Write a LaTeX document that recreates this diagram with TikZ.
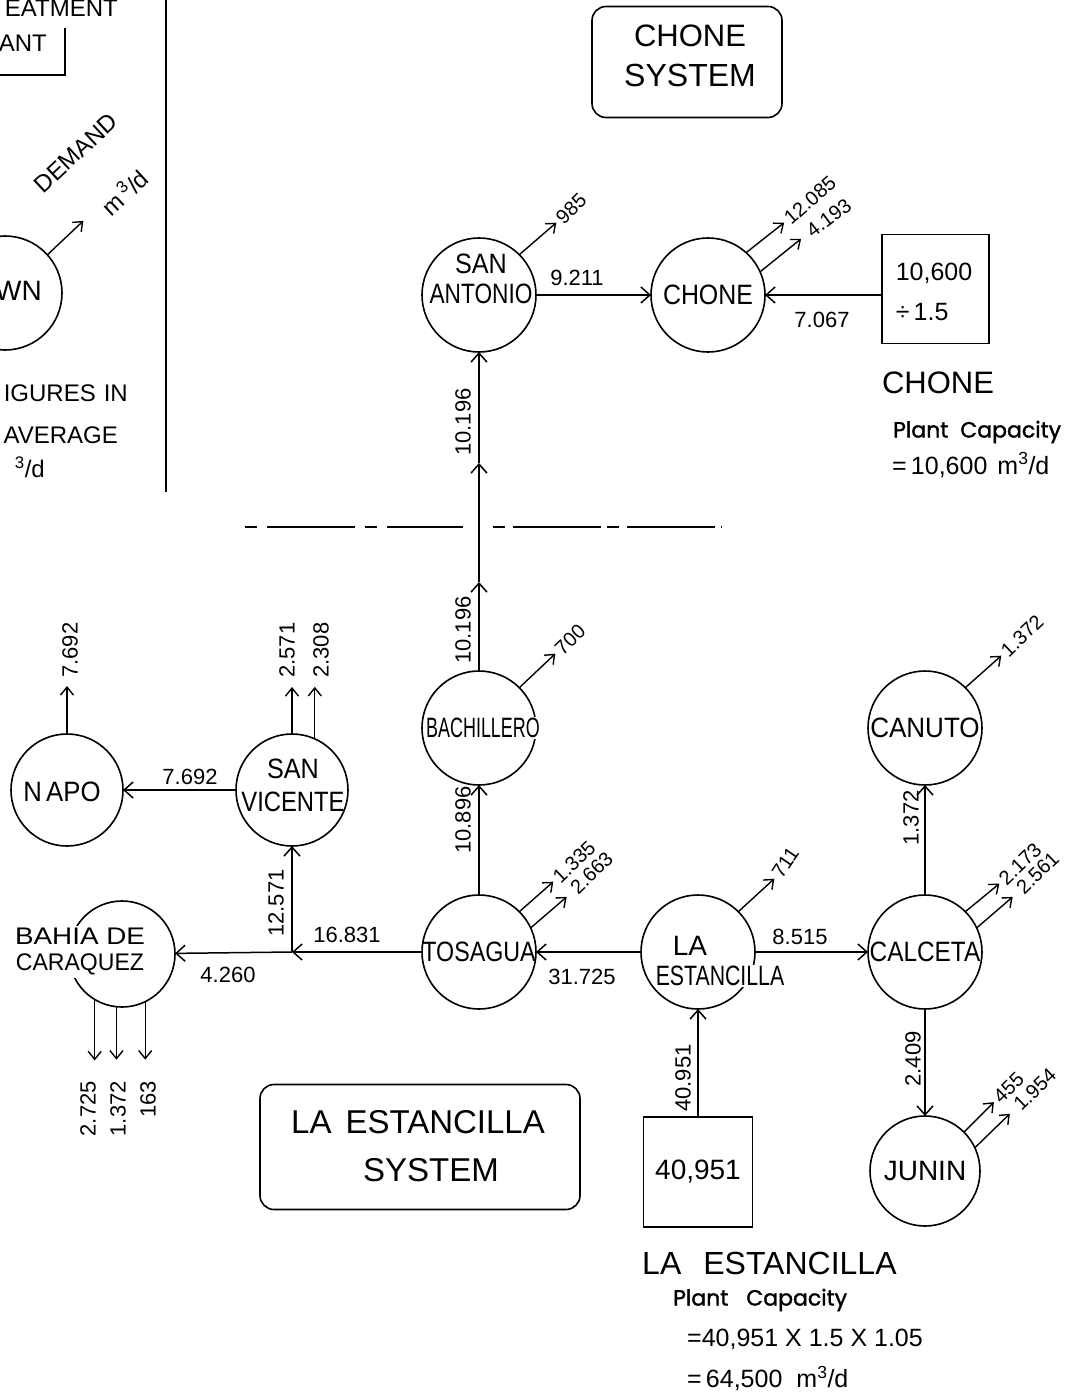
\documentclass[tikz,border=0pt]{standalone}
\usepackage{fontspec}
\usepackage{graphicx}
\setmainfont{Liberation Sans}
\newfontfamily\capfont{Poppins}[FakeBold=1.5]
\usetikzlibrary{arrows.meta,calc}
\newcommand\fsNode{\fontsize{28}{32}\selectfont}
\newcommand\fsLab{\fontsize{22}{24}\selectfont}
\newcommand\fsDem{\fontsize{20}{22}\selectfont}
\newcommand\fsBig{\fontsize{32}{40}\selectfont}
\newcommand\fsMid{\fontsize{24}{28}\selectfont}
\newcommand\fsEq{\fontsize{25}{28}\selectfont}
\newcommand\fsCap{\capfont\fontsize{22}{26}\selectfont}
\tikzset{
  town/.style={circle, draw, line width=1.6pt, minimum size=114pt, inner sep=0pt, outer sep=0pt},
  plantbox/.style={rectangle, draw, line width=1.6pt, inner sep=0pt, outer sep=0pt},
  sysbox/.style={rectangle, rounded corners=14pt, draw, line width=1.6pt, inner sep=0pt},
  ntext/.style={font=\fsNode, inner sep=0pt, align=center},
  ntextw/.style={ntext, fill=white, inner sep=1.5pt},
  elab/.style={font=\fsLab, inner sep=1pt},
  dlab/.style={font=\fsDem, anchor=west, rotate=44, inner sep=3pt},
  dlabfar/.style={dlab, inner sep=9pt},
  flow/.style={line width=1.5pt, -{Straight Barb[length=9pt,width=16pt,line width=1.5pt]}},
  dem/.style={line width=1.4pt, -{Straight Barb[length=8pt,width=13pt,line width=1.4pt]}},
  bigtext/.style={font=\fsBig, inner sep=0pt, align=center},
}
\begin{document}
\begin{tikzpicture}[x=1pt,y=-1pt]
\useasboundingbox (0,0) rectangle (1090,1396);
\fill[white] (0,0) rectangle (1090,1396);

% ---------- legend ----------
\coordinate (lgT) at (166,-2);
\coordinate (lgB) at (166,492);
\draw[line width=1.6pt] (lgT) -- (lgB);
\coordinate (lp1) at (65,28);
\coordinate (lp2) at (65,75);
\coordinate (lp3) at (-5,75);
\draw[line width=1.6pt] (lp1) -- (lp2) -- (lp3);
\node[font=\fsMid, anchor=east, inner sep=0pt] (lgtr) at (118,8) {EATMENT};
\node[font=\fsMid, anchor=east, inner sep=0pt] (lgpl) at (47,43) {ANT};
\node[town] (lgtown) at (5,293) {};
\node[ntext, anchor=east] (lgtownt) at (42,291) {WN};
\draw[dem] (lgtown.42) -- ++(36,-34);
\node[font=\fsMid, rotate=43, inner sep=0pt] (lgdem) at (76,153) {DEMAND};
\node[font=\fsMid, rotate=43, inner sep=0pt] (lgunit) at (124,192) {m\,\textsuperscript{3}/d};
\node[font=\fsMid, anchor=east, inner sep=0pt] (lgf1) at (128,393) {IGURES\hspace{8pt}IN};
\node[font=\fsMid, anchor=east, inner sep=0pt] (lgf2) at (118,435) {AVERAGE};
\node[font=\fsMid, anchor=east, inner sep=0pt] (lgf3) at (45,467) {\textsuperscript{3}/d};

% ---------- Chone system ----------
\node[sysbox, minimum width=190pt, minimum height=111pt] (chsys) at (687,62) {};
\node[bigtext] (chsyst) at (690,56) {\fontsize{31}{40}\selectfont CHONE\\SYSTEM};

\node[town] (sanant) at (479,295) {};
\node[ntext, font=\fontsize{28}{30}\selectfont] (sanantt) at (481,279) {\scalebox{0.9}[1]{SAN}\\\scalebox{0.81}[1]{ANTONIO}};
\node[town] (chone) at (708,295) {};
\node[ntext] (chonet) at (chone) {\scalebox{0.89}[1]{CHONE}};
\node[plantbox, minimum width=107pt, minimum height=109pt] (chplant) at (935.5,289) {};
\node[font=\fontsize{25}{40}\selectfont, align=left, inner sep=0pt] (chplantt) at (934,292) {10,600\\÷\,1.5};

\draw[flow] (sanant) -- (chone);
\draw[flow] (chplant.west |- chone.east) -- (chone.east);
\node[elab] (l9211) at (577,278) {9.211};
\node[elab] (l7067) at (822,320) {7.067};

\draw[dem] (sanant.45) -- ++(37,-32) node[dlab] {985};
\draw[dem] (chone.48) -- ++(38,-30) node[dlab, rotate=-3] {12.085};
\draw[dem] (chone.24) -- ++(41,-33) node[dlabfar, rotate=-7] {4.193};

\node[bigtext] (chlab) at (938,383) {\fontsize{31}{36}\selectfont CHONE};
\node[font=\fsCap, anchor=west, inner sep=0pt] (chcap) at (893,432) {Plant\hspace{12pt}Capacity};
\node[font=\fsEq, anchor=west, inner sep=0pt] (chcap2) at (892,465) {=\,10,600\hspace{10pt}m\textsuperscript{3}/d};

% ---------- column ----------
\coordinate (cA) at (479,463);
\coordinate (cB) at (479,582);
\node[town] (bach) at (479,728) {};
\node[ntextw] (bacht) at (483,728) {\scalebox{0.64}[1]{BACHILLERO}};
\draw[flow] (bach.north) -- (cB);
\draw[flow] (cB) -- (cA);
\draw[flow] (cA) -- (sanant.south);
\node[elab, rotate=90] (l10196a) at (463,422) {10.196};
\node[elab, rotate=90] (l10196b) at (463,630) {10.196};
\draw[dem] (bach.45) -- ++(36,-34) node[dlab] {700};

% dashed boundary
\coordinate (da1) at (245,527);
\coordinate (da2) at (463,527);
\coordinate (db1) at (493,527);
\coordinate (db2) at (722,527);
\draw[line width=1.5pt, dash pattern=on 12pt off 10pt on 88pt off 10pt] (da1) -- (da2);
\draw[line width=1.5pt, dash pattern=on 12pt off 8pt on 88pt off 6pt] (db1) -- (db2);

% ---------- main row ----------
\node[town] (tosa) at (479,952) {};
\node[ntext] (tosat) at (tosa) {\scalebox{0.83}[1]{TOSAGUA}};
\node[town] (lae) at (698,952) {};
\node[ntext] (laet1) at (690,946) {LA};
\node[ntextw] (laet2) at (720,976) {\scalebox{0.76}[1]{ESTANCILLA}};
\node[town] (calc) at (925,952) {};
\node[ntext] (calct) at (calc) {\scalebox{0.87}[1]{CALCETA}};
\node[town] (canuto) at (925,728) {};
\node[ntext] (canutot) at (canuto) {\scalebox{0.93}[1]{CANUTO}};
\node[town, minimum size=110pt] (junin) at (925,1171) {};
\node[ntext] (junint) at (junin) {JUNIN};
\node[plantbox, minimum width=109pt, minimum height=110pt] (leplant) at (698,1172) {};
\node[ntext] (leplantt) at (leplant) {40,951};

\draw[flow] (tosa) -- (bach);
\draw[flow] (lae) -- (tosa);
\draw[flow] (lae) -- (calc);
\draw[flow] (calc) -- (canuto);
\draw[flow] (calc) -- (junin);
\draw[flow] (leplant) -- (lae);

\node[elab, rotate=90] (l10896) at (463,820) {10.896};
\node[elab] (l31725) at (582,977) {31.725};
\node[elab] (l8515) at (800,937) {8.515};
\node[elab, rotate=90] (l1372a) at (911,818) {1.372};
\node[elab, rotate=90] (l2409) at (913,1059) {2.409};
\node[elab, rotate=90] (l40951) at (683,1078) {40.951};

\draw[dem] (tosa.45) -- ++(34,-30) node[dlab] {1.335};
\draw[dem] (tosa.25) -- ++(36,-31) node[dlabfar] {2.663};
\draw[dem] (lae.45) -- ++(36,-33) node[dlab, rotate=12] {711};
\draw[dem] (calc.45) -- ++(34,-28) node[dlab] {2.173};
\draw[dem] (calc.25) -- ++(36,-31) node[dlabfar] {2.561};
\draw[dem] (canuto.45) -- ++(36,-32) node[dlab] {1.372};
\draw[dem] (junin.45) -- ++(30,-30) node[dlab] {455};
\draw[dem] (junin.25) -- ++(35,-34) node[dlabfar] {1.954};

% ---------- west ----------
\node[town, minimum size=112pt] (napo) at (67,790) {};
\node[ntext] (napot) at (62,792) {\scalebox{0.92}[1]{N\,APO}};
\node[town, minimum size=112pt] (sanv) at (292,790) {};
\node[ntext, font=\fontsize{28}{33}\selectfont] (sanvt) at (293,785) {\scalebox{0.9}[1]{SAN}\\\scalebox{0.85}[1]{VICENTE}};
\node[town, minimum size=106pt] (bahia) at (122,954) {};
\node[ntextw, font=\fontsize{24}{26}\selectfont, inner sep=2pt] (bahiat) at (80,952) {\scalebox{1.16}[1]{BAHIA DE}\\\scalebox{0.96}[1]{CARAQUEZ}};
\coordinate (jn) at (292,952);

\draw[flow] (tosa) -- (jn);
\draw[flow] (jn) -- (bahia);
\draw[flow] (jn) -- (sanv);
\draw[flow] (sanv) -- (napo);

\node[elab] (l16831) at (347,935) {16.831};
\node[elab] (l4260) at (228,975) {4.260};
\node[elab, rotate=90] (l12571) at (276,903) {12.571};
\node[elab] (l7692) at (190,777) {7.692};

\draw[dem] (napo.north) -- ++(0,-48);
\node[elab, rotate=90, anchor=west] (l7692b) at (70,679) {7.692};
\draw[dem] (sanv.north) -- ++(0,-47);
\draw[dem] (sanv.66) -- ++(0,-52);
\node[elab, rotate=90, anchor=west] (l2571) at (287,679) {2.571};
\node[elab, rotate=90, anchor=west] (l2308) at (321,679) {2.308};

\draw[dem] (bahia.239) -- ++(0,61);
\draw[dem] (bahia.264) -- ++(0,53);
\draw[dem] (bahia.296) -- ++(0,58);
\node[elab, rotate=90, anchor=east] (l2725) at (88,1080) {2.725};
\node[elab, rotate=90, anchor=east] (l1372b) at (118,1080) {1.372};
\node[elab, rotate=90, anchor=east] (l163) at (148,1080) {163};

% ---------- La Estancilla system ----------
\node[sysbox, minimum width=320pt, minimum height=125pt] (lesys) at (420,1147) {};
\node[bigtext] (lesyst1) at (418,1122) {\fontsize{33}{40}\selectfont LA\hspace{14pt}ESTANCILLA};
\node[bigtext] (lesyst2) at (431,1170) {\fontsize{33}{40}\selectfont SYSTEM};

\node[bigtext, anchor=west] (lelab) at (642,1263) {LA\hspace{22pt}ESTANCILLA};
\node[font=\fsCap, anchor=west, inner sep=0pt] (lecap) at (673,1300) {Plant\hspace{18pt}Capacity};
\node[font=\fsEq, anchor=west, inner sep=0pt] (lecap2) at (687,1339) {=40,951 X 1.5 X 1.05};
\node[font=\fsEq, anchor=west, inner sep=0pt] (lecap3) at (687,1378) {=\,64,500\hspace{14pt}m\textsuperscript{3}/d};
\end{tikzpicture}
\end{document}
